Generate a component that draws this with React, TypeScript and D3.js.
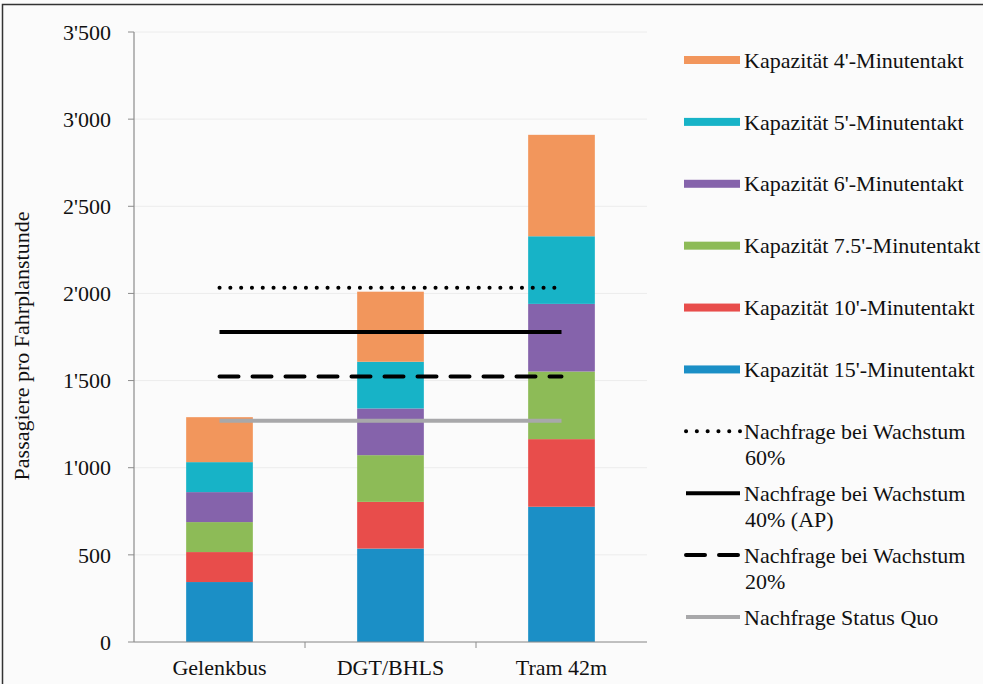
import * as d3 from "d3";

const categories = ["Gelenkbus", "DGT/BHLS", "Tram 42m"];

// capacity segments (stacked, bottom to top)
const seriesNames = [
  "Kapazität 15'-Minutentakt",
  "Kapazität 10'-Minutentakt",
  "Kapazität 7.5'-Minutentakt",
  "Kapazität 6'-Minutentakt",
  "Kapazität 5'-Minutentakt",
  "Kapazität 4'-Minutentakt",
];
const cap15 = [344, 536, 776];
const cap10 = [172, 268, 388];
const cap75 = [172, 268, 388];
const cap6 = [172, 268, 388];
const cap5 = [172, 268, 388];
const cap4 = [258, 402, 582];
const seriesValues = [cap15, cap10, cap75, cap6, cap5, cap4];
const seriesColors = ["#1b8fc6", "#e84d4b", "#8dbb57", "#8563ab", "#17b3c7", "#f2965c"];

// demand lines: 60%, 40% (AP), 20%, status quo
const demandValues = [2032, 1778, 1524, 1270];

const yTicks = [0, 500, 1000, 1500, 2000, 2500, 3000, 3500];

const W = 983;
const H = 684;
const txt = { fontFamily: "Liberation Serif, serif" };

const lineStyles = [
  { stroke: "#000", width: 4, dash: "0.1 10.7", cap: "round" as const },
  { stroke: "#000", width: 4, dash: undefined, cap: "butt" as const },
  { stroke: "#000", width: 4, dash: "19 14", cap: "round" as const },
  { stroke: "#a8a8aa", width: 4, dash: undefined, cap: "butt" as const },
];

export default function App() {
  const left = 134;
  const right = 647;
  const top = 32;
  const bottom = 642;

  const x = d3.scaleBand().domain(categories).range([left, right]).paddingInner(0.61).paddingOuter(0.305);
  const band = d3.scaleBand().domain(categories).range([left, right]);
  const y = d3.scaleLinear().domain([0, 3500]).range([bottom, top]);
  const fmt = d3.formatLocale({ decimal: ".", thousands: "'", grouping: [3], currency: ["", ""] }).format(",d");

  const rows = categories.map((c, i) => {
    const r: Record<string, number | string> = { cat: c };
    seriesNames.forEach((s, j) => (r[s] = seriesValues[j][i]));
    return r;
  });
  const stack = d3.stack<Record<string, number | string>>().keys(seriesNames)(rows as any);

  const xFirst = (band(categories[0]) ?? 0) + band.bandwidth() / 2;
  const xLast = (band(categories[categories.length - 1]) ?? 0) + band.bandwidth() / 2;

  // legend layout
  const legendItems = [
    ...seriesNames
      .map((n, j) => ({ kind: "rect", label: [n], color: seriesColors[j], style: null as any }))
      .reverse(),
    { kind: "line", label: ["Nachfrage bei Wachstum", "60%"], color: "", style: lineStyles[0] },
    { kind: "line", label: ["Nachfrage bei Wachstum", "40% (AP)"], color: "", style: lineStyles[1] },
    { kind: "line", label: ["Nachfrage bei Wachstum", "20%"], color: "", style: lineStyles[2] },
    { kind: "line", label: ["Nachfrage Status Quo"], color: "", style: lineStyles[3] },
  ];
  const legendY = d3.scaleLinear().domain([0, legendItems.length - 1]).range([60, 617]);

  return (
    <svg width={W} height={H} style={{ position: "absolute", left: 0, top: 0, background: "#fbfbfb" }}>
      <rect x={2.5} y={4.5} width={W + 10} height={H + 10} fill="#fbfbfb" stroke="#333" strokeWidth={1.5} />

      {/* gridlines */}
      {yTicks.map((t) => (
        <line key={"g" + t} x1={left} x2={right} y1={y(t)} y2={y(t)} stroke="#ececec" strokeWidth={1} />
      ))}

      {/* bars */}
      {stack.map((layer, j) =>
        layer.map((d, i) => (
          <rect
            key={j + "-" + i}
            x={x(categories[i])}
            width={x.bandwidth()}
            y={y(d[1])}
            height={y(d[0]) - y(d[1])}
            fill={seriesColors[j]}
          />
        ))
      )}

      {/* demand lines */}
      {demandValues.map((v, k) => (
        <line
          key={"d" + k}
          x1={xFirst}
          x2={xLast}
          y1={y(v)}
          y2={y(v)}
          stroke={lineStyles[k].stroke}
          strokeWidth={lineStyles[k].width}
          strokeDasharray={lineStyles[k].dash}
          strokeLinecap={lineStyles[k].cap}
        />
      ))}

      {/* y axis */}
      <line x1={left} x2={left} y1={top} y2={bottom} stroke="#8c8c8c" strokeWidth={1.2} />
      {yTicks.map((t) => (
        <g key={"t" + t}>
          <line x1={left - 6} x2={left} y1={y(t)} y2={y(t)} stroke="#8c8c8c" />
          <text x={111} y={y(t)} dy="0.35em" textAnchor="end" style={txt} fontSize={22} fill="#111">
            {fmt(t)}
          </text>
        </g>
      ))}
      <text
        transform={`translate(29,346) rotate(-90)`}
        textAnchor="middle"
        style={txt}
        fontSize={22}
        fill="#111"
      >
        Passagiere pro Fahrplanstunde
      </text>

      {/* x axis */}
      <line x1={left} x2={right} y1={bottom} y2={bottom} stroke="#8c8c8c" strokeWidth={1.2} />
      {categories.slice(1).map((c) => (
        <line key={"xt" + c} x1={band(c)} x2={band(c)} y1={bottom} y2={bottom + 6} stroke="#8c8c8c" />
      ))}
      {categories.map((c) => (
        <text
          key={"xl" + c}
          x={(band(c) ?? 0) + band.bandwidth() / 2}
          y={667}
          dy="0.35em"
          textAnchor="middle"
          style={txt}
          fontSize={22}
          fill="#111"
        >
          {c}
        </text>
      ))}

      {/* legend */}
      {legendItems.map((it, k) => {
        const ly = legendY(k);
        return (
          <g key={"l" + k}>
            {it.kind === "rect" ? (
              <rect x={684} y={ly - 4} width={56} height={8} fill={it.color} />
            ) : (
              <line
                x1={686}
                x2={740}
                y1={ly}
                y2={ly}
                stroke={it.style.stroke}
                strokeWidth={it.style.width}
                strokeDasharray={it.style.dash}
                strokeLinecap={it.style.cap}
              />
            )}
            {it.label.map((s, m) => (
              <text
                key={m}
                x={m === 0 ? 744 : 745}
                y={ly + m * 26}
                dy="0.35em"
                style={txt}
                fontSize={22}
                fill="#111"
              >
                {s}
              </text>
            ))}
          </g>
        );
      })}
    </svg>
  );
}
